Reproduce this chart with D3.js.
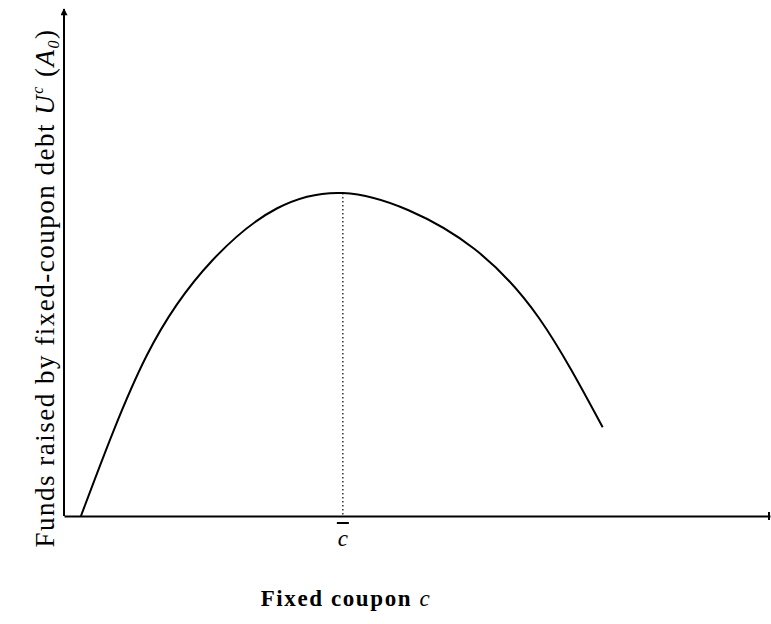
<!DOCTYPE html>
<html>
<head>
<meta charset="utf-8">
<script src="https://cdn.jsdelivr.net/npm/d3@7"></script>
<style>
  body { margin: 0; background: #fff; }
  text { font-family: "Liberation Serif", "Times New Roman", serif; fill: #000; }
</style>
</head>
<body>
<svg id="chart"></svg>
<script>
// Fixed coupon c (horizontal) and funds raised U^c(A0) (vertical)
const couponValues = [0.24, 1.17, 2.10, 3.02, 3.95, 4.88, 5.81, 6.73, 7.63];
const fundsValues  = [0.00, 3.16, 5.04, 6.07, 6.37, 6.03, 5.27, 3.90, 1.75];
const cBar = 3.95;   // coupon that maximises funds raised
const xDomain = [0, 10];
const yDomain = [0, 10];

const width = 771, height = 624;
const margin = {top: 9, right: 1, bottom: 108, left: 64};
const innerW = width - margin.left - margin.right;
const innerH = height - margin.top - margin.bottom;

const svg = d3.select('#chart')
    .attr('width', width)
    .attr('height', height);

// arrow head for the y axis
svg.append('defs').append('marker')
    .attr('id', 'arrow')
    .attr('viewBox', '0 0 10 10')
    .attr('refX', 9).attr('refY', 5)
    .attr('markerWidth', 8).attr('markerHeight', 7)
    .attr('markerUnits', 'userSpaceOnUse')
    .attr('orient', 'auto')
  .append('path')
    .attr('d', 'M0,0 L10,5 L0,10 z')
    .attr('fill', '#000');

const g = svg.append('g')
    .attr('transform', `translate(${margin.left},${margin.top})`);

const xScale = d3.scaleLinear().domain(xDomain).range([0, innerW]);
const yScale = d3.scaleLinear().domain(yDomain).range([innerH, 0]);

// axes without ticks, just the lines
const xAxisG = g.append('g')
    .attr('transform', `translate(0,${innerH})`)
    .call(d3.axisBottom(xScale).tickValues([]).tickSizeOuter(0));
const yAxisG = g.append('g')
    .call(d3.axisLeft(yScale).tickValues([]).tickSizeOuter(0));

xAxisG.select('.domain').attr('stroke-width', 2);
// small end bar on the x axis
xAxisG.append('line')
    .attr('x1', innerW - 1).attr('x2', innerW - 1)
    .attr('y1', -4).attr('y2', 4)
    .attr('stroke', '#000').attr('stroke-width', 2);
yAxisG.select('.domain')
    .attr('d', `M0,${innerH}V0`)
    .attr('stroke-width', 2)
    .attr('marker-end', 'url(#arrow)');

const pts = couponValues.map((c, i) => [c, fundsValues[i]]);
const peak = pts.find(d => d[0] === cBar);

// dotted line from the maximum down to the axis
g.append('line')
    .attr('x1', xScale(cBar)).attr('x2', xScale(cBar))
    .attr('y1', yScale(peak[1])).attr('y2', yScale(0))
    .attr('stroke', '#000')
    .attr('stroke-width', 1.2)
    .attr('stroke-dasharray', '1.5,2.5');

// funds raised curve
const line = d3.line()
    .x(d => xScale(d[0]))
    .y(d => yScale(d[1]))
    .curve(d3.curveNatural);

g.append('path')
    .datum(pts)
    .attr('fill', 'none')
    .attr('stroke', '#000')
    .attr('stroke-width', 2)
    .attr('d', line);

// c-bar label under the axis
g.append('line')
    .attr('x1', xScale(cBar) - 6).attr('x2', xScale(cBar) + 6)
    .attr('y1', innerH + 7).attr('y2', innerH + 7)
    .attr('stroke', '#000').attr('stroke-width', 2);
g.append('text')
    .attr('x', xScale(cBar)).attr('y', innerH + 30)
    .attr('text-anchor', 'middle')
    .attr('font-size', 23)
    .attr('font-style', 'italic')
    .text('c');

// x axis title
const xt = svg.append('text')
    .attr('x', 346).attr('y', 606)
    .attr('text-anchor', 'middle')
    .attr('font-size', 23)
    .attr('letter-spacing', 1.6)
    .attr('font-weight', 'bold');
xt.append('tspan').text('Fixed coupon ');
xt.append('tspan').attr('font-style', 'italic').attr('font-weight', 'normal').text('c');

// y axis title
const yt = svg.append('text')
    .attr('transform', 'translate(54,288) rotate(-90)')
    .attr('text-anchor', 'middle')
    .attr('font-size', 27)
    .attr('letter-spacing', 1.5);
yt.append('tspan').text('Funds raised by fixed-coupon debt ');
yt.append('tspan').attr('font-style', 'italic').text('U');
yt.append('tspan').attr('font-style', 'italic').attr('font-size', 16).attr('dy', -11).text('c');
yt.append('tspan').attr('dy', 11).text(' (');
yt.append('tspan').attr('font-style', 'italic').text('A');
yt.append('tspan').attr('font-style', 'italic').attr('font-size', 16).attr('dy', 5).text('0');
yt.append('tspan').attr('dy', -5).text(')');
</script>
</body>
</html>
